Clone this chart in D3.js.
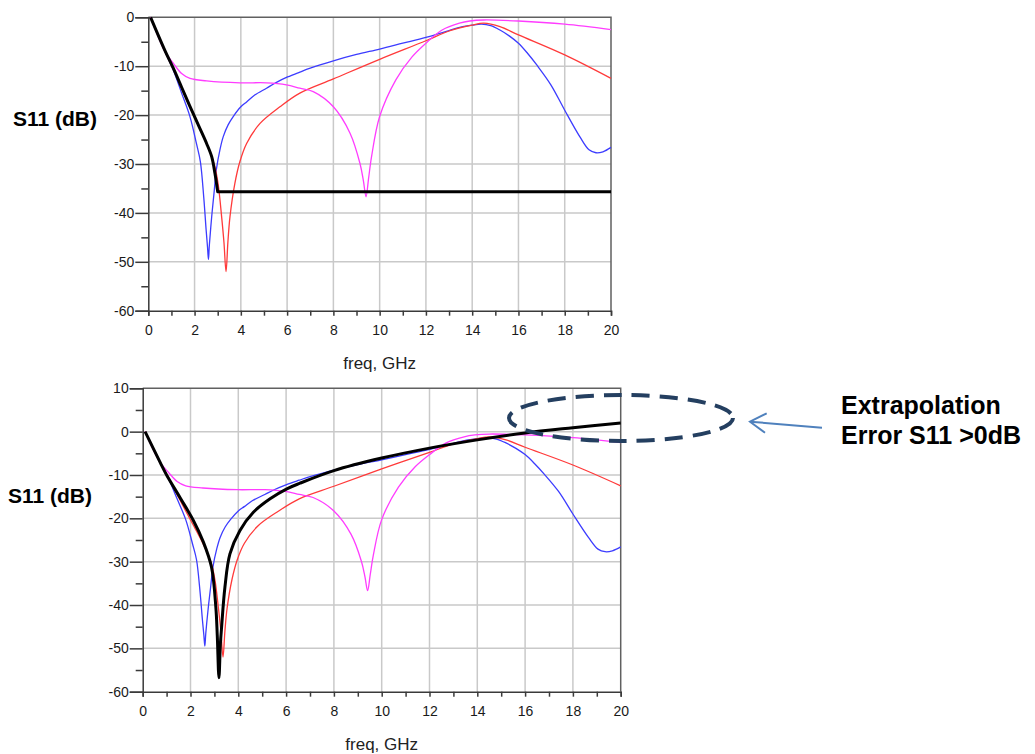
<!DOCTYPE html>
<html><head><meta charset="utf-8">
<script src="https://cdn.jsdelivr.net/npm/d3@7"></script>
<style>
html,body{margin:0;padding:0;background:#fff;}
svg{display:block;font-family:"Liberation Sans",Arial,sans-serif;}
</style></head>
<body><svg id="c" width="1035" height="754"></svg>
<script>
// ---- data: [freq GHz, S11 dB] ----
const blueData = [[0.1,0],[0.72,-7.0],[1.08,-10.8],[1.44,-15.5],[1.8,-20.3],[2.08,-25.8],[2.25,-29.5],[2.4,-37],[2.5,-43.5],[2.56,-47],[2.6,-49.5],[2.64,-46.5],[2.74,-40.8],[2.85,-35.5],[2.94,-31.2],[3.1,-27],[3.24,-24.4],[3.45,-22.0],[3.67,-20.3],[4.0,-18.3],[4.25,-17.3],[4.6,-15.9],[5.11,-14.5],[5.5,-13.4],[6.02,-12.2],[6.55,-11.2],[7.0,-10.4],[8.0,-8.9],[9.0,-7.6],[10.0,-6.5],[11.0,-5.3],[12.0,-4.1],[13.0,-2.7],[13.5,-2.0],[14.0,-1.6],[14.4,-1.4],[14.8,-1.7],[15.2,-2.6],[15.6,-3.8],[16.0,-5.3],[16.4,-7.4],[16.8,-9.8],[17.4,-13.8],[18.0,-19.0],[18.65,-24.4],[19.05,-27.1],[19.35,-27.7],[19.65,-27.5],[20.0,-26.6]];
const redData = [[0.1,0],[0.72,-7.0],[1.08,-10.6],[1.44,-14.5],[1.8,-18.3],[2.16,-22.0],[2.52,-25.8],[2.74,-28.5],[2.9,-31],[3.03,-34.5],[3.17,-40.8],[3.27,-46],[3.36,-52.0],[3.44,-46],[3.53,-40.8],[3.74,-34],[3.96,-29.5],[4.25,-25.8],[4.83,-21.7],[5.69,-18.3],[6.55,-15.5],[8.0,-12.6],[10.0,-8.6],[12.0,-4.8],[13.0,-2.8],[14.0,-1.6],[14.5,-1.2],[15.2,-1.9],[16.0,-3.6],[18.0,-7.7],[20.0,-12.5]];
const magentaData = [[0.1,0],[0.72,-7.0],[1.08,-9.4],[1.44,-11.5],[1.8,-12.5],[2.52,-13.0],[3.96,-13.4],[5.11,-13.4],[5.97,-13.8],[6.55,-14.5],[7.13,-15.2],[8.0,-18.3],[8.72,-23.7],[9.15,-29.9],[9.3,-33.5],[9.41,-36.7],[9.52,-33],[9.65,-28.5],[10.0,-20.3],[10.7,-12.8],[11.4,-8.1],[12.0,-5.3],[12.7,-2.6],[13.45,-1.2],[13.9,-0.76],[14.5,-0.55],[16.0,-0.76],[18.0,-1.4],[20.0,-2.5]];
const blackTopData = [[0.1,0],[0.72,-6.8],[1.08,-10.4],[1.44,-14.3],[1.8,-18.2],[2.16,-22.0],[2.52,-25.8],[2.74,-28.5],[2.88,-31.9],[3.0,-35.7],[20.0,-35.7]];
const blackBottomData = [[0.1,0],[0.73,-7.1],[1.0,-10.0],[1.56,-15.2],[2.12,-20.5],[2.54,-25.5],[2.88,-31.3],[3.06,-40.5],[3.12,-47],[3.19,-56.8],[3.25,-49],[3.3,-45.2],[3.44,-35.9],[3.65,-28.2],[4.07,-22.8],[4.63,-18.6],[5.33,-15.5],[6.03,-13.2],[6.58,-11.9],[8.0,-9.0],[10.0,-6.1],[12.0,-3.8],[14.0,-1.9],[16.0,-0.3],[18.0,0.9],[20.0,2.0]];

const xTicks = [0,2,4,6,8,10,12,14,16,18,20];
const yTicksTop = [0,-10,-20,-30,-40,-50,-60];
const yTicksBottom = [10,0,-10,-20,-30,-40,-50,-60];
const yLabel = "S11 (dB)";
const xLabel = "freq, GHz";
const noteLines = ["Extrapolation","Error S11 >0dB"];

const svg = d3.select("#c");

function drawChart(o){
  const g = svg.append("g");
  const x = d3.scaleLinear().domain([0,20]).range([o.x0,o.x1]);
  const y = d3.scaleLinear().domain(o.yDomain).range([o.y0,o.y1]);
  const yMin = o.yDomain[1], yMax = o.yDomain[0];
  // grid
  g.append("g").selectAll("line").data(xTicks.slice(1,-1)).join("line")
    .attr("x1",d=>x(d)).attr("x2",d=>x(d)).attr("y1",o.y0).attr("y2",o.y1)
    .attr("stroke","#c9c9c9").attr("stroke-width",1.5);
  g.append("g").selectAll("line").data(o.yTicks.slice(1,-1)).join("line")
    .attr("x1",o.x0).attr("x2",o.x1).attr("y1",d=>y(d)).attr("y2",d=>y(d))
    .attr("stroke","#c9c9c9").attr("stroke-width",1.5);
  // frame top/right
  g.append("path").attr("d",`M${o.x0},${o.y0}H${o.x1}V${o.y1}`).attr("fill","none").attr("stroke","#606060").attr("stroke-width",1.5);
  // axes
  const xa = d3.axisBottom(x).tickValues(xTicks).tickSize(5).tickPadding(9).tickFormat(d3.format("d"));
  g.append("g").attr("transform",`translate(0,${o.y1})`).call(xa);
  const xMinor = d3.axisBottom(x).tickValues(d3.range(1,20,2)).tickSize(5).tickFormat("");
  g.append("g").attr("transform",`translate(0,${o.y1})`).call(xMinor).call(s=>s.select(".domain").remove());
  const ya = d3.axisLeft(y).tickValues(o.yTicks).tickSize(13).tickPadding(1).tickFormat(d=>d<0?"-"+(-d):String(d));
  g.append("g").attr("transform",`translate(${o.x0},0)`).call(ya);
  const yMinor = d3.axisLeft(y).tickValues(d3.range(yMax-5,yMin,-10)).tickSize(7).tickFormat("");
  g.append("g").attr("transform",`translate(${o.x0},0)`).call(yMinor).call(s=>s.select(".domain").remove());
  g.selectAll(".domain").attr("stroke","#3a3a3a").attr("stroke-width",1.5);
  g.selectAll(".tick line").attr("stroke","#3a3a3a").attr("stroke-width",1.5);
  g.selectAll(".tick text").attr("fill","#1a1a1a").style("font-size","14px").style("font-family","'Liberation Sans',Arial,sans-serif");
  // lines
  const line = d3.line().x(d=>x(d[0])).y(d=>y(d[1])).curve(d3.curveCatmullRom.alpha(0.5));
  const series = [
    {d:blueData,c:"#3c3cff",w:1.3},
    {d:redData,c:"#ff3a3a",w:1.3},
    {d:magentaData,c:"#ff3cff",w:1.3},
  ];
  series.forEach(s=>g.append("path").attr("d",line(s.d)).attr("fill","none").attr("stroke",s.c).attr("stroke-width",s.w));
  let bd;
  if(o.flatTail){
    const last = o.black[o.black.length-1];
    bd = line(o.black.slice(0,-1)) + `L${x(last[0])},${y(last[1])}`;
  } else bd = line(o.black);
  g.append("path").attr("d",bd).attr("fill","none").attr("stroke","#000").attr("stroke-width",3).attr("stroke-linejoin","round");
  // labels
  g.append("text").attr("x",o.ylabX).attr("y",o.ylabY).style("font-size","21px").style("font-weight","bold").attr("fill","#000").text(yLabel);
  g.append("text").attr("x",(o.x0+o.x1)/2).attr("y",o.xlabY).attr("text-anchor","middle").style("font-size","17px").attr("fill","#222").text(xLabel);
  return {x,y};
}

drawChart({x0:148.3,x1:611,y0:17.3,y1:310.7,yDomain:[0,-60],yTicks:yTicksTop,black:blackTopData,flatTail:true,ylabX:13,ylabY:126,xlabY:369});
drawChart({x0:142.7,x1:620.7,y0:388.3,y1:691.7,yDomain:[10,-60],yTicks:yTicksBottom,black:blackBottomData,flatTail:false,ylabX:8,ylabY:503,xlabY:750});

// annotation
svg.append("ellipse").attr("cx",621).attr("cy",418).attr("rx",112).attr("ry",23)
  .attr("fill","none").attr("stroke","#243f60").attr("stroke-width",4).attr("stroke-dasharray","18,10");
svg.append("path").attr("d","M822,427.7L750,421.7M766.7,413.3L750,421.7L765,432.7")
  .attr("fill","none").attr("stroke","#4f81bd").attr("stroke-width",2);
svg.append("g").selectAll("text").data(noteLines).join("text")
  .attr("x",841).attr("y",(d,i)=>413.5+i*30).style("font-size","25px").style("font-weight","bold").attr("fill","#000").text(d=>d);
</script></body></html>
